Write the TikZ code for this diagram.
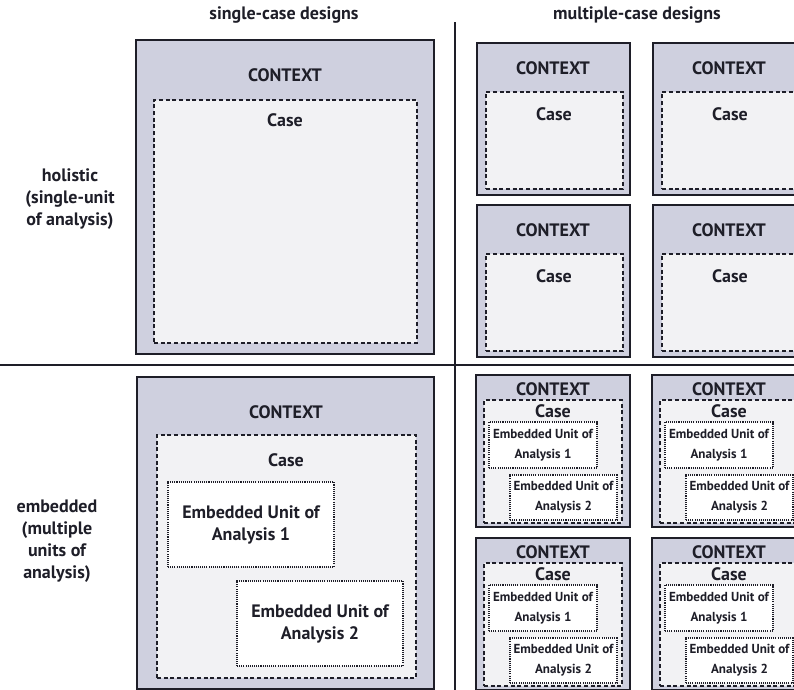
\documentclass[tikz,border=0pt]{standalone}
\usepackage{fontspec}
\setmainfont{PT Sans}
\usetikzlibrary{fit}
\definecolor{ctxfill}{RGB}{207,208,223}
\definecolor{casefill}{RGB}{242,242,244}
\definecolor{inkline}{RGB}{30,30,40}
\tikzset{
  px/.style={x=0.75pt,y=-0.75pt},
  ctxbox/.style={draw=inkline,line width=1.1pt,fill=ctxfill,inner sep=0pt},
  casebox/.style={draw=inkline,line width=1.1pt,dash pattern=on 3pt off 2pt,fill=casefill,inner sep=0pt},
  unitbox/.style={draw=inkline,line width=0.8pt,dash pattern=on 0.8pt off 0.8pt,fill=white,inner sep=0pt},
  header/.style={font=\bfseries\fontsize{13.5}{15}\selectfont,text=inkline},
  rowlabel/.style={font=\bfseries\fontsize{13.5}{16.5}\selectfont,align=center,text=inkline},
  ctxtext/.style={font=\bfseries\fontsize{13.5}{15}\selectfont,text=inkline},
  casetext/.style={font=\bfseries\fontsize{13.5}{15}\selectfont,text=inkline},
  bigunit/.style={font=\bfseries\fontsize{13.5}{16.5}\selectfont,align=center,text=inkline},
  smallunit/.style={font=\bfseries\fontsize{9.8}{15}\selectfont,align=center,text=inkline},
  divider/.style={draw=inkline,line width=1pt}
}
\begin{document}
\begin{tikzpicture}[px]
\useasboundingbox (0,0) rectangle (794,690);
\clip (0,0) rectangle (794,690);

% column headers
\node[header] (hsingle) at (284,15) {single-case designs};
\node[header] (hmulti) at (637,15) {multiple-case designs};

% row labels
\node[rowlabel] (rholistic) at (70,199) {holistic\\(single-unit\\of analysis)};
\node[rowlabel] (rembedded) at (57,541) {embedded\\(multiple\\units of\\analysis)};

% quadrant dividers
\coordinate (vtop) at (455,22);
\coordinate (vbot) at (455,690);
\coordinate (hleft) at (0,365);
\coordinate (hright) at (794,365);
\draw[divider] (vtop) -- (vbot);
\draw[divider] (hleft) -- (hright);

% single-case, holistic
\node[ctxbox, fit={(136,40)(434,354)}] (sh) {};
\node[casebox, fit={(154,100)(417,343)}] (shcase) {};
\node[ctxtext] (shctx) at (285,75) {CONTEXT};
\node[casetext] (shcasel) at (285,120) {Case};

% single-case, embedded
\node[ctxbox, fit={(137,377)(434,689)}] (se) {};
\node[casebox, fit={(157,435)(416,678)}] (secase) {};
\node[ctxtext] (sectx) at (286,412) {CONTEXT};
\node[casetext] (secasel) at (286,460) {Case};
\node[unitbox, fit={(168,482)(334,567)}] (seu1) {};
\node[bigunit] at (seu1.center) {Embedded Unit of\\Analysis 1};
\node[unitbox, fit={(237,581)(403,666)}] (seu2) {};
\node[bigunit] at (seu2.center) {Embedded Unit of\\Analysis 2};

% multiple-case, holistic (four cases)
\foreach \dx/\dy/\n in {0/0/a, 176/0/b, 0/162/c, 176/162/d}{
  \begin{scope}[shift={(\dx,\dy)}]
    \node[ctxbox, fit={(477,43)(630,195)}] (mh\n) {};
    \node[casebox, fit={(486,92)(623,189)}] (mhcase\n) {};
    \node[ctxtext] (mhctx\n) at (553,68) {CONTEXT};
    \node[casetext] (mhcasel\n) at (554,114) {Case};
  \end{scope}
}

% multiple-case, embedded (four cases)
\foreach \dx/\dy/\n in {0/0/a, 176/0/b, 0/163/c, 176/163/d}{
  \begin{scope}[shift={(\dx,\dy)}]
    \node[ctxbox, fit={(476,375)(630,527)}] (me\n) {};
    \node[casebox, fit={(484,400)(622,523)}] (mecase\n) {};
    \node[ctxtext] (mectx\n) at (553,389) {CONTEXT};
    \node[casetext] (mecasel\n) at (553,411) {Case};
    \node[unitbox, fit={(489,422)(597,468)}] (meu1\n) {};
    \node[smallunit] at (meu1\n.center) {Embedded Unit of\\Analysis 1};
    \node[unitbox, fit={(510,475)(617,520)}] (meu2\n) {};
    \node[smallunit] at (meu2\n.center) {Embedded Unit of\\Analysis 2};
  \end{scope}
}
\end{tikzpicture}
\end{document}
